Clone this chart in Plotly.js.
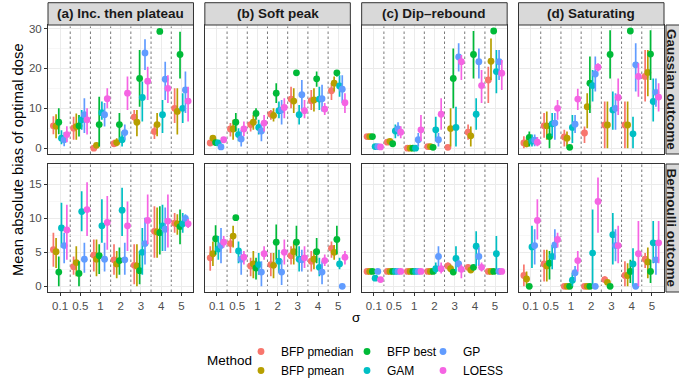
<!DOCTYPE html>
<html><head><meta charset="utf-8">
<script src="https://cdn.plot.ly/plotly-3.0.1.min.js"></script>
<style>html,body{margin:0;padding:0;background:#fff}#chart{width:679px;height:379px}</style>
</head><body><div id="chart"></div>
<script>
// ---------- categories ----------
const sigmaLabels = ["0.1", "0.5", "1", "2", "3", "4", "5"];
const methods = ["BFP pmedian", "BFP pmean", "BFP best", "GAM", "GP", "LOESS"];
const scenarioLabels = ["(a) Inc. then plateau", "(b) Soft peak", "(c) Dip\u2013rebound", "(d) Saturating"];
const outcomeLabels = ["Gaussian outcome", "Bernoulli outcome"];

// ---------- data: rows = methods (order above), columns = sigma ----------
// Gaussian outcome, (a)
const gaussA_est = [[5.6,5.0,0.0,1.1,7.8,4.2,10.0],[5.5,5.4,0.7,1.4,6.5,5.9,9.2],[6.5,5.6,5.9,5.9,17.5,29.3,23.5],[2.5,7.1,8.9,2.1,12.7,8.4,10.0],[2.1,8.4,8.4,3.9,23.9,17.3,14.6],[3.4,7.1,12.4,13.8,16.8,15.0,11.8]];
const gaussA_lo  = [[3.5,2.1,0.0,0.4,6.7,2.3,6.3],[2.5,2.1,0.3,0.5,3.0,3.0,3.4],[3.5,2.9,0.4,2.1,10.4,29.3,17.5],[1.0,4.6,7.1,0.4,6.7,3.8,6.3],[0.5,3.8,5.4,2.1,19.6,12.1,8.8],[1.5,3.4,10.0,9.6,12.1,11.3,6.7]];
const gaussA_hi  = [[8.0,7.9,0.0,2.1,9.6,5.9,15.0],[8.5,8.7,1.2,2.5,9.6,8.8,15.0],[10.0,8.3,12.9,8.8,24.6,29.3,29.2],[4.5,9.6,11.7,4.2,16.7,12.1,13.8],[4.0,12.5,11.3,5.9,27.3,21.7,19.2],[5.5,10.0,15.0,18.0,20.4,18.3,15.4]];
// Gaussian outcome, (b)
const gaussB_est = [[1.3,4.8,5.9,8.5,12.3,11.9,14.4],[2.5,4.8,6.5,8.2,11.8,12.1,16.3],[1.4,6.5,8.7,13.8,18.9,17.4,18.9],[1.3,3.4,5.2,9.4,8.4,12.3,15.6],[0.3,2.3,4.3,9.6,13.4,12.4,14.8],[2.1,4.8,6.3,10.2,9.4,9.8,11.4]];
const gaussB_lo  = [[0.5,2.9,4.2,7.1,10.0,9.6,12.1],[1.5,2.1,4.6,6.7,8.8,9.2,14.2],[0.8,4.2,7.1,11.3,18.9,15.4,18.0],[0.6,1.7,3.4,7.5,5.9,9.6,12.9],[0.0,0.4,1.7,5.9,9.6,9.2,11.3],[1.3,3.0,4.2,7.5,7.5,8.3,8.8]];
const gaussB_hi  = [[2.0,6.3,6.7,9.6,15.4,14.6,16.3],[3.3,7.1,8.3,10.0,15.0,15.0,18.0],[2.0,8.8,10.0,16.3,19.2,19.2,19.6],[2.0,5.0,7.1,11.7,10.8,15.4,18.3],[1.0,4.6,6.3,12.1,17.1,15.9,18.3],[2.8,6.7,8.3,12.5,12.1,11.3,13.8]];
// Gaussian outcome, (c)
const gaussC_est = [[2.9,1.5,0.0,0.4,0.2,4.0,17.1],[2.9,1.7,0.0,0.4,4.9,3.1,21.8],[2.9,1.1,0.0,0.2,17.5,23.5,29.4],[0.4,4.3,0.0,4.6,5.2,8.5,19.2],[0.4,4.8,2.1,2.1,22.9,21.7,21.7],[0.3,4.0,4.6,8.5,21.7,15.7,18.8]];
const gaussC_lo  = [[2.9,0.9,0.0,0.4,0.2,2.1,11.3],[2.9,1.0,0.0,0.4,0.4,0.4,17.1],[2.9,0.4,0.0,0.2,10.0,17.5,29.4],[0.4,2.5,0.0,1.7,0.4,4.6,13.8],[0.4,3.0,0.4,0.4,19.2,17.5,17.1],[0.3,2.5,1.7,4.6,17.1,11.3,14.6]];
const gaussC_hi  = [[2.9,2.1,0.0,0.4,0.2,5.9,20.4],[2.9,2.3,0.0,0.4,10.0,5.4,27.5],[2.9,1.7,0.0,0.2,25.0,29.4,29.4],[0.4,5.9,0.0,7.9,10.4,12.5,24.6],[0.4,6.5,3.8,3.8,26.3,25.0,24.6],[0.3,5.5,8.3,12.5,23.4,19.6,22.1]];
// Gaussian outcome, (d)
const gaussD_est = [[1.3,5.6,2.8,3.8,5.8,5.8,18.0],[1.1,5.6,2.5,10.4,5.8,5.8,19.0],[2.7,2.9,0.2,16.3,23.5,29.4,23.6],[1.7,6.1,5.2,15.7,9.6,3.6,11.7],[2.0,6.3,6.0,18.6,10.0,20.9,14.0],[1.5,10.0,12.3,20.3,12.7,18.0,12.8]];
const gaussD_lo  = [[0.0,2.6,0.4,1.3,0.0,0.0,11.7],[0.2,2.1,0.4,5.0,0.0,0.0,13.0],[0.4,0.0,0.2,8.8,17.5,29.4,17.1],[0.4,3.0,1.3,11.7,4.6,0.0,6.7],[0.5,2.1,3.8,14.2,4.6,14.2,10.4],[0.5,7.1,9.6,19.2,8.3,12.9,9.2]];
const gaussD_hi  = [[3.0,8.8,4.6,5.4,11.7,11.7,24.6],[2.5,9.2,4.2,13.8,11.7,11.7,24.6],[4.2,6.3,0.2,23.0,29.6,29.4,29.6],[3.4,8.8,8.3,19.6,14.2,7.9,17.5],[3.4,8.8,8.3,23.0,13.8,26.3,17.5],[2.8,12.1,14.9,21.3,17.5,21.3,16.3]];
// Bernoulli outcome, (a)
const bernA_est = [[5.4,2.9,4.6,3.9,3.1,8.1,9.3],[5.1,3.5,4.0,3.3,3.0,8.0,9.2],[2.1,1.9,4.5,3.8,2.3,7.9,8.8],[8.6,11.0,8.9,11.2,5.0,8.9,9.2],[6.0,4.0,4.0,3.9,6.3,8.4,10.0],[8.3,11.3,9.4,8.9,9.7,9.6,9.2]];
const bernA_lo  = [[2.9,1.7,2.2,1.7,0.3,4.2,7.9],[2.7,1.5,1.5,1.2,0.0,4.2,7.6],[0.0,0.0,1.8,1.7,0.3,4.7,6.2],[5.7,8.1,6.4,7.4,1.7,5.2,7.9],[3.4,2.0,2.2,1.7,3.2,5.2,9.4],[3.9,7.4,5.4,5.2,6.2,5.7,8.6]];
const bernA_hi  = [[7.9,4.4,6.9,6.2,6.2,11.8,10.8],[7.1,5.9,6.9,5.2,6.2,11.6,10.6],[4.4,3.7,6.2,5.7,5.2,11.8,11.3],[12.3,14.0,12.8,14.5,8.6,12.0,10.8],[7.9,6.4,6.4,6.4,10.1,11.6,10.6],[12.0,15.3,13.3,12.5,13.5,13.5,9.9]];
// Bernoulli outcome, (b)
const bernB_est = [[4.2,6.3,3.0,3.2,4.5,3.7,5.6],[4.8,7.4,3.3,3.1,5.1,4.0,5.0],[7.0,10.1,2.7,6.5,6.5,5.1,6.9],[5.5,5.2,3.2,3.7,4.0,2.8,3.3],[6.0,4.0,2.1,2.1,3.9,2.1,0.0],[6.5,4.3,4.8,5.0,4.2,3.8,4.3]];
const bernB_lo  = [[2.3,4.9,1.5,1.5,3.2,2.2,4.2],[3.0,5.7,1.2,1.2,3.2,2.5,3.9],[4.7,10.1,1.0,3.9,4.4,3.4,4.7],[3.9,3.4,1.7,2.0,2.2,1.5,2.5],[3.4,1.7,0.0,0.2,2.2,0.3,0.0],[5.7,3.2,3.9,3.2,2.7,3.0,3.2]];
const bernB_hi  = [[5.9,7.1,4.2,4.9,5.9,5.2,6.6],[6.6,8.9,5.2,4.9,6.6,5.4,6.1],[9.0,10.1,4.2,9.1,8.9,7.1,8.9],[7.4,6.6,4.9,5.4,5.9,4.2,4.2],[8.6,5.2,3.7,3.9,5.4,3.7,0.0],[7.4,5.2,5.9,6.9,5.9,4.7,5.2]];
// Bernoulli outcome, (c)
const bernC_est = [[2.2,2.2,2.2,2.2,3.0,2.8,2.2],[2.2,2.2,2.2,2.2,2.6,2.4,2.2],[2.2,2.2,2.2,2.2,2.1,2.8,2.2],[1.2,2.2,2.2,2.6,4.1,5.9,4.8],[2.2,2.2,2.2,4.4,3.3,4.4,2.2],[1.0,2.2,2.2,2.6,2.5,2.8,2.2]];
const bernC_lo  = [[2.2,2.2,2.2,2.2,2.5,2.5,2.2],[2.2,2.2,2.2,2.2,2.0,2.2,2.2],[2.2,2.2,2.2,2.2,2.1,2.5,2.2],[0.8,2.2,2.2,1.9,2.2,3.0,2.0],[2.2,2.2,2.2,2.7,2.2,3.0,2.2],[0.8,2.2,2.2,1.9,1.2,2.2,2.2]];
const bernC_hi  = [[2.2,2.2,2.2,2.2,3.5,3.2,2.2],[2.2,2.2,2.2,2.2,3.2,2.7,2.2],[2.2,2.2,2.2,2.2,2.3,3.0,2.2],[1.5,2.2,2.2,3.5,5.9,8.1,7.4],[2.2,2.2,2.2,5.9,3.9,5.7,2.2],[1.2,2.2,2.2,3.5,3.2,3.5,2.2]];
// Bernoulli outcome, (d)
const bernD_est = [[1.6,3.3,0.0,0.0,1.0,1.6,4.0],[1.1,3.0,0.0,0.0,0.6,1.6,3.6],[0.0,3.4,0.0,0.0,0.0,2.2,2.2],[5.8,4.4,0.9,4.9,7.6,3.3,6.4],[6.0,6.1,2.0,0.0,6.0,0.0,3.9],[9.7,6.9,3.8,12.5,6.0,4.8,6.4]];
const bernD_lo  = [[0.0,0.7,0.0,0.0,0.5,0.0,2.7],[0.0,0.7,0.0,0.0,0.3,0.0,1.2],[0.0,1.0,0.0,0.0,0.0,0.5,0.5],[2.7,2.5,0.0,0.0,3.2,0.0,3.4],[3.2,3.9,0.8,0.0,3.7,0.0,1.7],[6.9,5.7,2.2,7.9,3.4,0.0,3.4]];
const bernD_hi  = [[3.2,5.4,0.0,0.0,1.5,3.7,4.9],[2.2,5.4,0.0,0.0,1.0,3.4,5.7],[0.0,5.2,0.0,0.0,0.0,3.9,3.9],[8.9,6.1,2.0,11.3,10.8,5.6,9.6],[8.4,8.4,3.0,0.0,8.4,0.0,6.1],[12.8,7.9,5.2,16.0,8.9,9.6,9.6]];

// ---------- styling ----------
const colors = ["#F8766D", "#B79F00", "#00BA38", "#00BFC4", "#619CFF", "#F564E3"];
const legendOf = ["legend", "legend", "legend2", "legend2", "legend3", "legend3"];
const FONT = "Liberation Sans, Arial, Helvetica, sans-serif";
const dodgeWidth = 0.8;

const panels = [
  {est: gaussA_est, lo: gaussA_lo, hi: gaussA_hi},
  {est: gaussB_est, lo: gaussB_lo, hi: gaussB_hi},
  {est: gaussC_est, lo: gaussC_lo, hi: gaussC_hi},
  {est: gaussD_est, lo: gaussD_lo, hi: gaussD_hi},
  {est: bernA_est, lo: bernA_lo, hi: bernA_hi},
  {est: bernB_est, lo: bernB_lo, hi: bernB_hi},
  {est: bernC_est, lo: bernC_lo, hi: bernC_hi},
  {est: bernD_est, lo: bernD_lo, hi: bernD_hi}
];

// geometry (paper fractions of the plot area)
const colDom = [[0, 0.2362], [0.2546, 0.4908], [0.5092, 0.7454], [0.7638, 1]];
const rowDom = [[0.5169, 1], [0, 0.4794]];
const rowRange = [[-1.47, 30.9], [-0.83, 18.0]];
const rowDtick = [10, 5];

const traces = [];
const layout = {
  width: 679, height: 379,
  margin: {l: 48, r: 15, t: 25, b: 87, autoexpand: false},
  paper_bgcolor: "#ffffff", plot_bgcolor: "#ffffff",
  font: {family: FONT, size: 11.5, color: "#4D4D4D"},
  showlegend: true,
  shapes: [], annotations: []
};

const catIdx = sigmaLabels.map((s, i) => i + 1);

panels.forEach((p, pi) => {
  const r = Math.floor(pi / 4), c = pi % 4, n = pi + 1;
  const xa = "x" + (n === 1 ? "" : n), ya = "y" + (n === 1 ? "" : n);
  methods.forEach((m, mi) => {
    const off = (mi - (methods.length - 1) / 2) * dodgeWidth / methods.length;
    const est = p.est[mi], lo = p.lo[mi], hi = p.hi[mi];
    traces.push({
      type: "scatter", mode: "markers",
      x: catIdx.map(v => v + off), y: est,
      xaxis: xa, yaxis: ya,
      name: m, legendgroup: m, legend: legendOf[mi],
      showlegend: pi === 0,
      marker: {color: colors[mi], size: 6.8, line: {width: 0}},
      error_y: {type: "data", symmetric: false,
        array: est.map((v, k) => Math.max(0, hi[k] - v)),
        arrayminus: est.map((v, k) => Math.max(0, v - lo[k])),
        width: 0, thickness: 1.7, color: colors[mi]},
      hoverinfo: "skip"
    });
  });
  layout["xaxis" + (n === 1 ? "" : n)] = {
    domain: colDom[c], anchor: ya, range: [0.4, 7.6],
    tickmode: "array", tickvals: catIdx, ticktext: sigmaLabels,
    showticklabels: r === 1, ticks: r === 1 ? "outside" : "", ticklen: 3, tickcolor: "#333333", tickwidth: 1,
    tickfont: {size: 11.5, color: "#4D4D4D", family: FONT},
    showgrid: true, gridcolor: "#EBEBEB", gridwidth: 1, zeroline: false,
    showline: true, mirror: true, linecolor: "#333333", linewidth: 1, fixedrange: true
  };
  layout["yaxis" + (n === 1 ? "" : n)] = {
    domain: rowDom[r], anchor: xa, range: rowRange[r],
    tickmode: "linear", tick0: 0, dtick: rowDtick[r],
    showticklabels: c === 0, ticks: c === 0 ? "outside" : "", ticklen: 3, tickcolor: "#333333", tickwidth: 1,
    tickfont: {size: 11.5, color: "#4D4D4D", family: FONT},
    showgrid: true, gridcolor: "#EBEBEB", gridwidth: 1, zeroline: false,
    minor: {dtick: rowDtick[r] / 2, tick0: 0, showgrid: true, gridcolor: "#F2F2F2", gridwidth: 0.6},
    showline: true, mirror: true, linecolor: "#333333", linewidth: 1, fixedrange: true
  };
  // dashed separators between sigma groups
  for (let k = 1; k < sigmaLabels.length; k++) {
    layout.shapes.push({type: "line", layer: "below", xref: xa, yref: ya + " domain",
      x0: k + 0.5, x1: k + 0.5, y0: 0, y1: 1,
      line: {color: "#555555", width: 0.8, dash: "2.5px,2.5px"}});
  }
});

// facet strips (top)
const stripTop = [1.0, 1.0835];
scenarioLabels.forEach((t, c) => {
  layout.shapes.push({type: "rect", layer: "above", xref: "paper", yref: "paper",
    x0: colDom[c][0], x1: colDom[c][1], y0: stripTop[0], y1: stripTop[1],
    fillcolor: "#D9D9D9", line: {color: "#333333", width: 1}});
  layout.annotations.push({xref: "paper", yref: "paper", x: (colDom[c][0] + colDom[c][1]) / 2,
    y: (stripTop[0] + stripTop[1]) / 2, text: "<b>" + t + "</b>", showarrow: false,
    xanchor: "center", yanchor: "middle", font: {family: FONT, size: 13.5, color: "#1A1A1A"}});
});
// facet strips (right)
const stripRight = [1.0032, 1.03];
outcomeLabels.forEach((t, r) => {
  layout.shapes.push({type: "rect", layer: "above", xref: "paper", yref: "paper",
    x0: stripRight[0], x1: stripRight[1], y0: rowDom[r][0], y1: rowDom[r][1],
    fillcolor: "#D9D9D9", line: {color: "#333333", width: 1}});
  layout.annotations.push({xref: "paper", yref: "paper", x: 1.0123,
    y: (rowDom[r][0] + rowDom[r][1]) / 2, text: "<b>" + t + "</b>", showarrow: false, textangle: 90,
    xanchor: "center", yanchor: "middle", font: {family: FONT, size: 13.5, color: "#1A1A1A"}});
});

// axis titles
layout.annotations.push({xref: "paper", yref: "paper", x: -0.049, y: 0.497, text: "Mean absolute bias of optimal dose",
  textangle: -90, showarrow: false, xanchor: "center", yanchor: "middle", font: {family: FONT, size: 14.8, color: "#000000"}});
layout.annotations.push({xref: "paper", yref: "paper", x: 0.5, y: -0.097, text: "\u03c3",
  showarrow: false, xanchor: "center", yanchor: "middle", font: {family: FONT, size: 13.5, color: "#000000"}});
// legend title
layout.annotations.push({xref: "paper", yref: "paper", x: 0.334, y: -0.2584, text: "Method",
  showarrow: false, xanchor: "right", yanchor: "middle", font: {family: FONT, size: 13.5, color: "#000000"}});

const legBase = {orientation: "v", xanchor: "left", yanchor: "middle", y: -0.2584,
  bgcolor: "rgba(0,0,0,0)", borderwidth: 0, tracegroupgap: 0,
  font: {family: FONT, size: 12, color: "#000000"}};
layout.legend = Object.assign({}, legBase, {x: 0.3133});
layout.legend2 = Object.assign({}, legBase, {x: 0.4854});
layout.legend3 = Object.assign({}, legBase, {x: 0.6088});

Plotly.newPlot("chart", traces, layout, {staticPlot: true, displayModeBar: false});
</script>
</body></html>
